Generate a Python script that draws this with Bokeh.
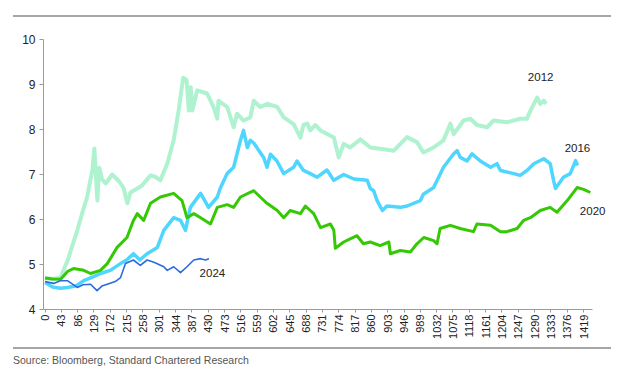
from bokeh.plotting import figure
from bokeh.models import Range1d, FixedTicker, Label, Div
from bokeh.layouts import column
from bokeh.embed import file_html
from bokeh.resources import INLINE
from math import pi

# ---- data ----
x_ticks = list(range(0, 1420, 43))
y_ticks = [4, 5, 6, 7, 8, 9, 10]

x_2012 = [0, 20, 41, 60, 85, 100, 111, 120, 125, 130, 134, 138, 143, 150, 160, 177, 195, 207, 217, 225,
          233, 255, 278, 290, 304, 322, 339, 352, 364, 373, 379, 384, 388, 401, 427, 444, 454, 457, 480, 497,
          506, 523, 541, 550, 567, 586, 612, 629, 655, 673, 681, 691, 699, 712, 726, 761, 774, 787, 804, 831,
          857, 883, 919, 954, 980, 997, 1024, 1050, 1068, 1077, 1103, 1121, 1138, 1165, 1182, 1217, 1252, 1270,
          1279, 1297, 1305, 1314, 1320]
y_2012 = [4.70, 4.68, 4.71, 5.10, 5.76, 6.20, 6.50, 6.90, 7.10, 7.58, 7.00, 6.42, 7.15, 6.90, 6.80, 7.00, 6.85, 6.70, 6.36, 6.60,
          6.64, 6.75, 6.98, 6.95, 6.87, 7.24, 7.76, 8.42, 9.15, 9.10, 8.42, 8.94, 8.42, 8.87, 8.80, 8.50, 8.24, 8.64, 8.50, 8.05,
          8.35, 8.20, 8.27, 8.64, 8.50, 8.57, 8.50, 8.27, 8.12, 7.82, 8.10, 8.13, 7.98, 8.10, 7.98, 7.82, 7.38, 7.68, 7.60, 7.78,
          7.60, 7.57, 7.53, 7.83, 7.72, 7.49, 7.60, 7.76, 8.13, 7.90, 8.20, 8.24, 8.10, 8.05, 8.20, 8.16, 8.24, 8.24,
          8.42, 8.71, 8.57, 8.64, 8.57]

x_2016 = [0, 20, 41, 59, 80, 102, 125, 146, 172, 199, 215, 233, 250, 269, 296, 313, 339, 357, 370, 383,
          410, 431, 454, 462, 480, 497, 515, 523, 533, 541, 550, 576, 585, 594, 611, 629, 655, 664, 681, 699,
          717, 743, 761, 787, 814, 849, 857, 866, 875, 889, 901, 936, 954, 989, 997, 1024, 1050, 1077, 1086, 1094,
          1112, 1125, 1147, 1174, 1191, 1200, 1235, 1252, 1270, 1288, 1314, 1331, 1340, 1345, 1366, 1384, 1398, 1403]
y_2016 = [4.60, 4.50, 4.47, 4.49, 4.52, 4.64, 4.72, 4.80, 4.87, 5.02, 5.10, 5.24, 5.10, 5.24, 5.38, 5.76, 6.04, 5.98, 5.76, 6.27,
          6.58, 6.27, 6.50, 6.70, 7.02, 7.16, 7.76, 7.98, 7.60, 7.76, 7.70, 7.38, 7.16, 7.45, 7.30, 7.02, 7.16, 7.30, 7.09, 7.02,
          6.94, 7.10, 6.87, 7.00, 6.90, 6.87, 6.69, 6.64, 6.42, 6.20, 6.30, 6.27, 6.30, 6.42, 6.56, 6.71, 7.16, 7.46, 7.53, 7.38,
          7.30, 7.46, 7.30, 7.16, 7.24, 7.09, 7.02, 6.98, 7.09, 7.24, 7.35, 7.24, 6.87, 6.69, 6.94, 7.02, 7.31, 7.20]

x_2020 = [0, 20, 41, 60, 75, 102, 120, 146, 164, 190, 216, 233, 243, 260, 278, 304, 339, 361, 374, 392,
          410, 436, 454, 480, 497, 515, 550, 567, 585, 612, 629, 646, 673, 686, 699, 708, 726, 752, 761, 765,
          787, 804, 822, 839, 857, 883, 906, 910, 936, 963, 980, 998, 1024, 1033, 1041, 1068, 1094, 1129, 1138, 1174,
          1200, 1217, 1244, 1261, 1279, 1305, 1331, 1349, 1376, 1402, 1419, 1437]
y_2020 = [4.70, 4.68, 4.67, 4.85, 4.91, 4.87, 4.80, 4.87, 5.02, 5.38, 5.60, 5.98, 6.13, 5.98, 6.36, 6.50, 6.58, 6.42, 6.04, 6.13,
          6.04, 5.90, 6.27, 6.33, 6.27, 6.50, 6.64, 6.50, 6.36, 6.20, 6.04, 6.20, 6.13, 6.30, 6.20, 6.13, 5.82, 5.90, 5.76, 5.36,
          5.50, 5.57, 5.64, 5.46, 5.50, 5.42, 5.50, 5.24, 5.31, 5.28, 5.46, 5.60, 5.53, 5.46, 5.80, 5.87, 5.80, 5.73, 5.90, 5.87,
          5.73, 5.73, 5.80, 5.98, 6.04, 6.20, 6.27, 6.16, 6.42, 6.71, 6.67, 6.60]

x_2024 = [0, 23, 40, 59, 85, 100, 120, 137, 150, 164, 185, 199, 212, 233, 251, 269, 287, 313, 322, 339,
          357, 374, 392, 410, 423, 432]
y_2024 = [4.62, 4.58, 4.64, 4.64, 4.49, 4.55, 4.56, 4.42, 4.52, 4.56, 4.62, 4.71, 5.02, 5.10, 4.98, 5.10, 5.05, 4.95, 4.87, 4.95,
          4.82, 4.95, 5.10, 5.13, 5.10, 5.13]

series_names = ["2012", "2016", "2020", "2024"]
label_x = [1306, 1403, 1443, 441]
label_y = [9.16, 7.58, 6.20, 4.82]

source_text = "Source: Bloomberg, Standard Chartered Research"

# ---- figure ----
FONT = "Liberation Sans"
p = figure(width=621, height=330, output_backend="svg", toolbar_location=None,
           x_range=Range1d(-4, 1519), y_range=Range1d(4, 10),
           min_border_left=43, min_border_right=0, min_border_top=22, min_border_bottom=38,
           margin=(0, 0, 0, 0))
p.outline_line_color = None
p.grid.visible = False
p.background_fill_color = "white"
p.border_fill_color = "white"

colors = {"2012": "#AEF2CF", "2016": "#4FD6FF", "2020": "#35C805", "2024": "#2B6BE0"}
widths = {"2012": 4, "2016": 3.5, "2020": 3, "2024": 1.6}
data = {"2012": (x_2012, y_2012), "2016": (x_2016, y_2016), "2020": (x_2020, y_2020), "2024": (x_2024, y_2024)}
for name in series_names:
    xs, ys = data[name]
    p.line(xs, ys, line_color=colors[name], line_width=widths[name], line_join="round")

for name, lx, ly in zip(series_names, label_x, label_y):
    p.add_layout(Label(x=lx, y=ly, text=name, text_align="center", text_baseline="middle",
                       text_font=FONT, text_font_size="11.5px", text_color="#222222"))

# axes
p.xaxis.ticker = FixedTicker(ticks=x_ticks)
p.xaxis.bounds = (-4, 1443)
p.yaxis.ticker = FixedTicker(ticks=y_ticks)
p.xaxis.major_label_orientation = pi / 2
for ax in (p.xaxis[0], p.yaxis[0]):
    ax.axis_line_color = "#9A9A9A"
    ax.major_tick_line_color = "#9A9A9A"
    ax.minor_tick_line_color = None
    ax.major_tick_in = 0
    ax.major_label_text_font = FONT
    ax.major_label_text_color = "#222222"
p.xaxis.major_tick_out = 3
p.xaxis.major_label_standoff = 2
p.xaxis.major_label_text_font_size = "11px"
p.yaxis.major_tick_out = 4
p.yaxis.major_label_standoff = 4
p.yaxis.major_label_text_font_size = "12px"

# decorative rules and source line
top_rule = Div(text="", width=598, height=2, margin=(15, 0, 0, 13),
               styles={"background-color": "#A6A6A6"})
bottom_rule = Div(text="", width=598, height=2, margin=(0, 0, 0, 13),
                  styles={"background-color": "#A6A6A6"})
source = Div(text=source_text, width=400, height=13, margin=(5, 0, 0, 13),
             styles={"font-family": FONT, "font-size": "10.5px", "color": "#555555",
                     "line-height": "13px", "white-space": "nowrap"})

layout = column(top_rule, p, bottom_rule, source, spacing=0)
open("out.html", "w").write(file_html(layout, INLINE))
